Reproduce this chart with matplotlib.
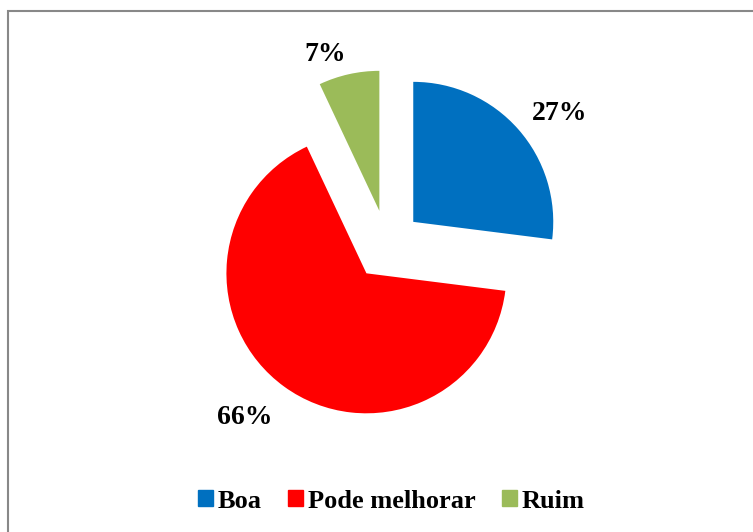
import matplotlib.pyplot as plt
import matplotlib.patches as mpatches
import numpy as np

# data
labels = ["Boa", "Pode melhorar", "Ruim"]
values = [27, 66, 7]
colors = ["#0070C0", "#FF0000", "#9BBB59"]

plt.rcParams['font.family'] = ['Liberation Serif', 'DejaVu Serif']
plt.rcParams['font.weight'] = 'bold'

W, H = 753, 532
R = 140
fig = plt.figure(figsize=(W/100, H/100), dpi=100)
ax = fig.add_axes([0, 0, 1, 1])

# explode is in data units (pixels here)
wedges, texts, autotexts = ax.pie(values, colors=colors, startangle=90, counterclock=False,
                                  explode=[35]*3, radius=R, center=(387, 287),
                                  autopct='%.0f%%', pctdistance=1.3,
                                  wedgeprops=dict(linewidth=0), frame=True)
ax.set_xlim(0, W)
ax.set_ylim(0, H)
ax.set_aspect('equal')
ax.axis('off')

# per-slice label placement (distance in radii, angle shift in degrees)
lab_dist = [1.30, 1.35, 1.18]
lab_shift = [-4.9, -4.1, 6.5]
for w, t, d, s in zip(wedges, autotexts, lab_dist, lab_shift):
    ang = np.deg2rad((w.theta1 + w.theta2) / 2 + s)
    cx, cy = w.center
    t.set_position((cx + d * R * np.cos(ang), cy + d * R * np.sin(ang)))
    t.set_fontsize(20)
    t.set_fontweight('bold')
    t.set_color('black')

handles = [mpatches.Patch(color=c, label=l) for c, l in zip(colors, labels)]
fig.legend(handles=handles, loc='center', bbox_to_anchor=(0.52, 0.058), ncol=3, frameon=False,
           prop={'size': 19, 'weight': 'bold'}, handlelength=0.55, handleheight=0.55,
           handletextpad=0.2, columnspacing=1.0)

# outer border
fig.patches.append(mpatches.Rectangle((8/W, -0.05), 1.05, 1 - 11/H + 0.05, transform=fig.transFigure,
                                      fill=False, edgecolor='#888888', linewidth=1.5))

fig.savefig('out.png', dpi=100)
